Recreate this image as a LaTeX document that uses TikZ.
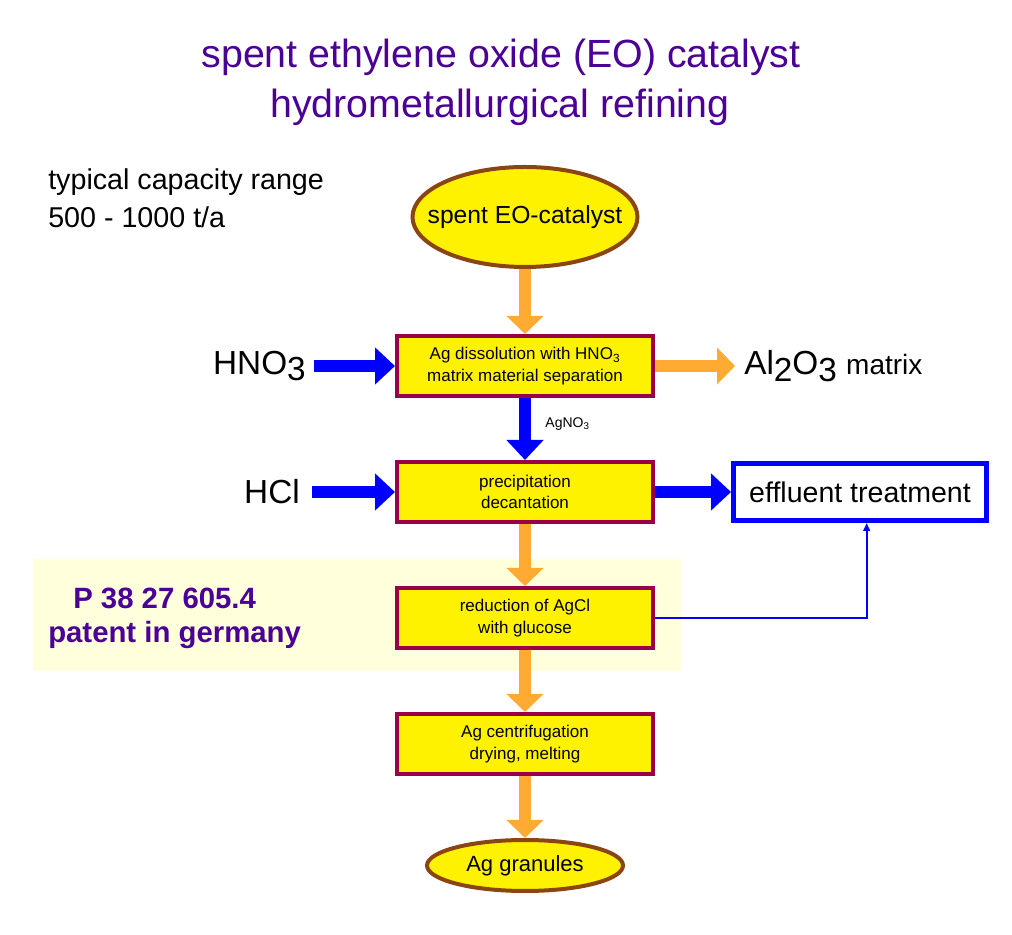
\documentclass[tikz,border=0pt]{standalone}
\usepackage{fontspec}
\setmainfont{Liberation Sans}
\usepackage{tikz}
\usetikzlibrary{shapes, arrows.meta, positioning, shapes.geometric}
\definecolor{rimbrown}{RGB}{139,69,19}
\definecolor{boxrim}{RGB}{153,0,71}
\definecolor{floworange}{RGB}{255,170,50}
\definecolor{titleviolet}{RGB}{75,0,150}
\definecolor{patchyellow}{RGB}{255,255,220}
\tikzset{%
  terminal/.style={ellipse, draw=rimbrown, fill=yellow, line width=3pt, inner sep=0pt, text centered},
  stepbox/.style={rectangle, draw=boxrim, fill=yellow, line width=3.2pt, minimum width=191.8pt, minimum height=44.8pt, align=center, font=\fontsize{12.75}{16}\selectfont},
  sinkbox/.style={rectangle, draw=blue, fill=white, line width=3.5pt, minimum width=190pt, minimum height=43pt, font=\fontsize{21.4}{26}\selectfont},
  sidetext/.style={inner sep=0pt, font=\fontsize{25}{30}\selectfont},
  orangearrow/.style={draw, -{Triangle[width=27pt, length=13.5pt]}, line width=9pt, floworange},
  bluearrow/.style={draw, -{Triangle[width=27pt, length=15pt]}, line width=9pt, blue},
  thinline/.style={draw, -{Triangle[width=5pt, length=6pt]}, line width=1.75pt, blue}}
\begin{document}
\begin{tikzpicture}[x=0.75pt, y=0.75pt, node distance=46.5pt]
    \useasboundingbox (0,0) rectangle (1012,934);
    % Patch behind the patent note
    \fill[patchyellow] (33,263) rectangle (681,375);
    % Heading and notes
    \node (title1) [anchor=base, text=titleviolet, font=\fontsize{29.5}{34}\selectfont] at (501,866.3) {spent ethylene oxide (EO) catalyst};
    \node (title2) [anchor=base, text=titleviolet, font=\fontsize{29.5}{34}\selectfont] at (500,816) {hydrometallurgical refining};
    \node (cap1) [anchor=base west, inner sep=0pt, font=\fontsize{21.5}{26}\selectfont] at (48,744) {typical capacity range};
    \node (cap2) [anchor=base west, inner sep=0pt, font=\fontsize{21.5}{26}\selectfont] at (48,706) {500 - 1000 t/a};
    \node (patent1) [anchor=base west, inner sep=0pt, text=titleviolet, font=\fontsize{22}{26}\selectfont\bfseries] at (73,325) {P 38 27 605.4};
    \node (patent2) [anchor=base west, inner sep=0pt, text=titleviolet, font=\fontsize{22}{26}\selectfont\bfseries] at (48,291) {patent in germany};
    % Main line of the process
    \node (feed) [terminal, inner xsep=-20pt, minimum width=168.75pt, minimum height=75pt, font=\fontsize{18.5}{22}\selectfont] at (525,717) {spent EO-catalyst};
    \node (dissolve) [stepbox, below=48.75pt of feed] {Ag dissolution with HNO\textsubscript{3}\\matrix material separation};
    \node (precip) [stepbox, below=of dissolve] {precipitation\\decantation};
    \node (reduce) [stepbox, below=of precip] {reduction of AgCl\\with glucose};
    \node (centrif) [stepbox, below=of reduce] {Ag centrifugation\\drying, melting};
    \node (granules) [terminal, below=of centrif, minimum width=147pt, minimum height=38.25pt, font=\fontsize{16.5}{20}\selectfont] {Ag granules};
    % Inputs and outputs at the side
    \node (hno) [sidetext, left=66.75pt of dissolve] {HNO\raisebox{-0.2em}{3}};
    \node (alumina) [sidetext, right=66.75pt of dissolve] {Al\raisebox{-0.2em}{2}O\raisebox{-0.2em}{3} {\fontsize{21}{25}\selectfont matrix}};
    \node (hcl) [sidetext, left=71.25pt of precip] {HCl};
    \node (effl) [sinkbox, right=57pt of precip] {effluent treatment};
    % Arrows
    \draw[orangearrow] (feed) -- (dissolve);
    \draw[bluearrow] (dissolve) -- node[right=7.5pt, pos=0.42, text=black, font=\fontsize{10.5}{12}\selectfont] {AgNO\textsubscript{3}} (precip);
    \draw[orangearrow] (precip) -- (reduce);
    \draw[orangearrow] (reduce) -- (centrif);
    \draw[orangearrow] (centrif) -- (granules);
    \draw[bluearrow, shorten <=6pt] (hno) -- (dissolve);
    \draw[orangearrow, shorten >=6.75pt] (dissolve) -- (alumina);
    \draw[bluearrow, shorten <=9pt] (hcl) -- (precip);
    \draw[bluearrow] (precip) -- (effl);
    \draw[thinline] (reduce.east) -| ([xshift=5pt]effl.south);
\end{tikzpicture}
\end{document}
